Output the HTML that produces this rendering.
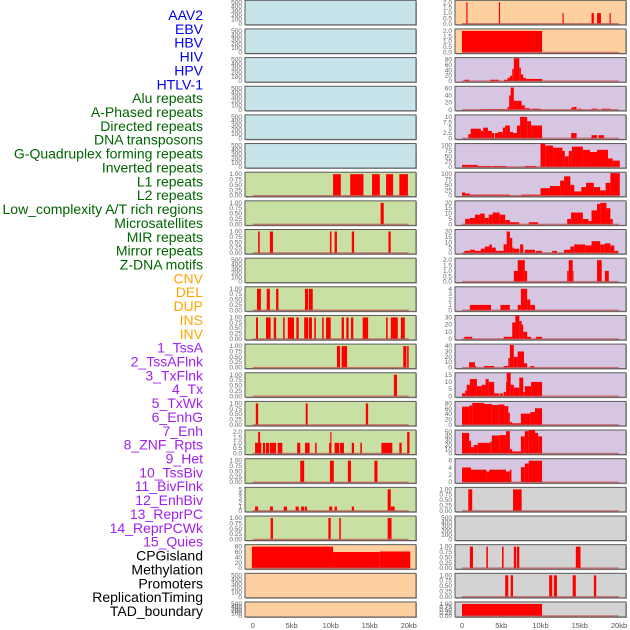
<!DOCTYPE html>
<html><head><meta charset="utf-8">
<style>
body{margin:0;background:#fff;width:630px;height:630px;overflow:hidden}
svg{display:block;font-family:"Liberation Sans",sans-serif}
</style></head>
<body>
<svg id="chart" width="630" height="630" viewBox="0 0 630 630" xmlns="http://www.w3.org/2000/svg">
<g id="labels"></g>
<g id="left"></g>
<g id="right"></g>
<g id="xaxes"></g>
</svg>
<script>
// ---- labels ----
const labelNames = ["AAV2","EBV","HBV","HIV","HPV","HTLV-1","Alu repeats","A-Phased repeats","Directed repeats","DNA transposons","G-Quadruplex forming repeats","Inverted repeats","L1 repeats","L2 repeats","Low_complexity A/T rich regions","Microsatellites","MIR repeats","Mirror repeats","Z-DNA motifs","CNV","DEL","DUP","INS","INV","1_TssA","2_TssAFlnk","3_TxFlnk","4_Tx","5_TxWk","6_EnhG","7_Enh","8_ZNF_Rpts","9_Het","10_TssBiv","11_BivFlnk","12_EnhBiv","13_ReprPC","14_ReprPCWk","15_Quies","CPGisland","Methylation","Promoters","ReplicationTiming","TAD_boundary"];
const labelGroups = [0,0,0,0,0,0,1,1,1,1,1,1,1,1,1,1,1,1,1,2,2,2,2,2,3,3,3,3,3,3,3,3,3,3,3,3,3,3,3,4,4,4,4,4];
const groupColors = ["#0000ee","#006400","#ffa500","#a020f0","#000000"];
// ---- x axis ----
const xTicks = [0,5,10,15,20];
const xTickLabels = ["0","5kb","10kb","15kb","20kb"];
// ---- left column: [startKb, endKb, value] ----
const leftMax = [500,500,500,500,500,500,1,1,1,500,1,1,1,1,1,2,1,5,1,80,500,500];
const leftTickStep = [100,100,100,100,100,100,0.25,0.25,0.25,100,0.25,0.25,0.25,0.25,0.25,0.5,0.25,1,0.25,20,100,100];
const leftBg = ["#c8e4eb","#c8e4eb","#c8e4eb","#c8e4eb","#c8e4eb","#c8e4eb","#c9e0a5","#c9e0a5","#c9e0a5","#c9e0a5","#c9e0a5","#c9e0a5","#c9e0a5","#c9e0a5","#c9e0a5","#c9e0a5","#c9e0a5","#c9e0a5","#c9e0a5","#ffd09f","#ffd09f","#ffd09f"];
const L6=[[10.3,11.3,1],[12.5,14.2,1],[15.3,16.3,1],[17.1,18,1],[18.8,19.9,1]];
const L7=[[16.4,16.8,1]];
const L8=[[0.7,0.9,1],[2.2,2.6,1],[9.9,10.1,1],[10.5,10.8,1],[12.7,13,1],[17.4,17.7,1]];
const L10=[[0.55,1.05,1],[1.8,2.2,1],[3,3.3,1],[6.7,7.1,1],[7.2,7.7,1]];
const L11=[[0.43,0.68,1],[1.7,2.3,1],[2.7,3,1],[3.9,4.1,1],[4.5,5.3,1],[5.6,5.9,1],[6.6,7.1,1],[7.2,7.6,1],[7.9,8.1,1],[8.9,9.1,1],[9.4,10,1],[11.4,11.7,1],[12,12.3,1],[12.6,12.9,1],[14.1,14.8,1],[17.1,17.3,1],[17.7,18.6,1],[19,19.5,1]];
const L12=[[10.8,11.2,1],[11.4,12.1,1],[19.3,19.7,1],[19.8,20,1]];
const L13=[[18.1,18.5,1]];
const L14=[[0.4,0.7,1],[6.8,7.05,1],[14.5,14.8,1]];
const L15=[[0.3,1.1,1],[0.7,0.95,2],[1.3,1.6,1],[1.7,2.1,1],[2.2,3,1],[3.2,3.8,1],[5.7,6.1,1],[6.7,7.3,1],[8,8.2,1],[9.8,10.1,1],[9.95,10.1,2],[10.5,11.1,1],[11.2,11.7,1],[12.7,13,1],[13.8,14,1],[16.5,17.9,1],[18.8,19.1,1],[19.8,20.1,2]];
const L16=[[6.1,6.6,1],[9.9,10.4,1],[12.2,12.6,1],[15.6,16,1]];
const L17=[[0.3,0.7,1],[2.2,2.6,1],[3.97,4.4,1],[5.5,5.9,1],[6.2,6.6,1],[6.7,6.97,1],[9.8,10.2,1],[10.5,10.8,1],[12.7,13,1],[17.3,17.7,5],[17.7,18.2,1]];
const L18=[[2.3,2.6,1],[9.7,10,1],[11.1,11.3,1],[17.3,17.8,1]];
const L19=[[-0.1,10.3,80],[10.3,16.3,60],[16.3,20.2,62]];
const leftData=[[],[],[],[],[],[],L6,L7,L8,[],L10,L11,L12,L13,L14,L15,L16,L17,L18,L19,[],[]];
// ---- right column ----
const rightMax = [2,2,80,60,10,100,100,20,20,2,4,30,40,15,80,50,6,1,500,1,1,1];
const rightTickStep = [0.5,0.5,20,20,2.5,25,25,5,5,0.5,1,10,10,5,20,10,2,0.25,100,0.25,0.25,0.25];
const rightBg = ["#ffd09f","#ffd09f","#d6c6e2","#d6c6e2","#d6c6e2","#d6c6e2","#d6c6e2","#d6c6e2","#d6c6e2","#d6c6e2","#d6c6e2","#d6c6e2","#d6c6e2","#d6c6e2","#d6c6e2","#d6c6e2","#d6c6e2","#d3d3d3","#d3d3d3","#d3d3d3","#d3d3d3","#d3d3d3"];
const R0=[[0.55,0.7,2],[4.7,4.85,2],[12.8,12.95,1],[16.5,16.8,1],[17.2,17.7,1],[18.8,18.95,1]];
const R1=[[0,10.2,2]];
const R2=[[0.3,0.9,5],[3.6,4.7,5],[5.35,5.8,5],[5.8,6.1,12],[6.1,6.4,20],[6.4,6.6,45],[6.6,7.3,85],[7.3,7.5,50],[7.5,7.8,25],[7.8,8.15,12],[8.15,10.2,8]];
const R3=[[2.4,5.8,2],[5.8,6,8],[6,6.2,40],[6.2,6.6,62],[6.6,7,25],[7,7.6,25],[7.6,8,12],[8,8.7,4],[8.9,10,3],[13.9,14.2,6],[14.2,14.6,8],[14.8,15.2,3],[16.5,17.2,3],[17.8,18.9,3]];
const R4=[[0.8,1.1,2],[1.1,2.4,4.5],[2.4,2.7,3.5],[2.7,3.3,5],[3.3,3.8,3.5],[3.8,4.1,2.5],[4.2,4.6,2.5],[4.6,5.2,3],[5.2,5.5,5],[5.5,6.1,6],[6.1,6.5,3],[6.5,7,2.5],[7,7.4,6],[7.4,8.3,10],[8.3,8.8,8],[8.8,10.2,6],[13.9,14.6,2.5],[16.5,17.2,1.5],[17.4,18.1,1.5]];
const R5=[[0,2,10],[2,3.7,5],[3.8,5.6,5],[8,9.4,5],[10,10.6,110],[10.6,11.6,100],[11.6,12.8,90],[12.8,13.1,75],[13.1,13.6,50],[13.6,14,75],[14,15.4,95],[15.4,16.3,80],[16.3,17.2,70],[17.2,18.6,80],[18.6,19.2,40],[19.2,20.1,30]];
const R6=[[0,0.4,15],[0.4,1,10],[1,6.1,5],[7.5,10,5],[10,11.2,35],[11.2,12.5,45],[12.5,13,70],[13,13.8,90],[13.8,14.3,50],[14.3,15.2,20],[15.2,15.8,40],[15.8,16.8,60],[16.8,17.6,40],[17.6,18.3,25],[18.3,18.9,60],[18.9,20.1,105]];
const R7=[[0.4,1,5],[1,1.65,6],[1.65,2.3,9],[2.3,2.9,10],[2.9,3.4,6],[3.4,3.9,9],[3.9,4.8,11],[4.8,5.5,9],[5.5,6.1,4],[6.1,7.3,2],[8.5,9.7,2],[13.4,13.9,5],[13.9,15.4,11],[15.4,16.1,5],[16.1,16.5,3],[16.5,17.2,13],[17.2,17.6,19],[17.6,18.4,20],[18.4,18.9,15],[18.9,19.2,5]];
const R8=[[0.3,1,2],[1,1.65,3],[1.65,2.4,2],[2.4,2.9,4],[2.9,3.5,6],[3.5,3.8,8],[3.8,4.3,5],[4.3,5.3,2],[5.3,5.7,8],[5.7,6.1,20],[6.1,6.4,14],[6.4,6.6,5],[6.6,7.3,4],[7.4,7.8,8],[8,9.3,3],[9.4,10.2,2],[11.5,12.1,2],[13,13.8,3],[13.8,14.3,6],[14.3,15.7,8],[15.7,16.5,7],[16.5,17.6,11],[17.6,18.2,8],[18.2,18.9,9],[18.9,19.4,7],[19.4,19.9,2]];
const R9=[[6.6,7.4,1],[7.1,8,2],[8,8.3,1],[13.4,13.6,1],[13.6,14.1,2],[14.1,14.2,1],[17.2,17.8,2],[18.2,18.7,1]];
const R10=[[1,3.7,1],[4.9,6.1,1],[7.1,7.5,1],[7.5,8.3,4],[8.3,8.7,2],[8.7,9.3,1]];
const R11=[[0.3,1.3,3],[5.3,6.4,3],[6.4,6.8,23],[6.8,7.3,33],[7.3,7.6,25],[7.6,7.8,20],[7.8,8.3,10],[8.3,8.8,3],[9.4,10.2,3]];
const R12=[[0.9,1.65,10],[1.65,1.8,3],[2.8,4.1,3],[5.3,5.9,3],[5.9,6.1,18],[6.1,6.6,42],[6.6,7.1,20],[7.1,7.9,30],[7.9,8.3,8],[8.7,9.2,3]];
const R13=[[0,0.4,2],[0.4,0.6,4],[0.6,1,8],[1,1.9,12],[1.9,2.5,7],[2.5,3,8],[3,3.4,12],[3.4,4.1,10],[4.1,4.7,2],[4.8,5.2,2],[5.3,5.6,3],[5.6,5.7,10],[5.7,6.2,18],[6.2,6.6,8],[6.6,7.3,6],[7.3,7.8,13],[7.8,8,3],[8,8.8,7],[8.8,10.2,10]];
const R14=[[0,0.9,68],[0.9,1.3,72],[1.3,2.8,82],[2.8,3.8,78],[3.8,4.6,74],[4.6,5.4,76],[5.4,5.9,70],[5.9,6.1,45],[6.1,6.4,10],[6.4,7.5,6],[7.5,8.7,42],[8.7,9.3,48],[9.3,10.2,62]];
const R15=[[0,0.9,48],[0.9,1.15,30],[1.15,1.5,15],[1.5,2,20],[2,3.6,25],[3.6,3.8,28],[3.8,4.8,42],[4.8,5.6,43],[5.6,6.1,52],[6.1,6.4,10],[6.4,7.5,5],[7.5,8,40],[8,8.5,52],[8.5,9.3,58],[9.3,9.7,48],[9.7,10.2,40]];
const R16=[[0,1.15,4.1],[1.15,3.1,3.5],[3.1,3.5,3],[3.5,5.6,3.5],[5.6,6.1,3],[6.1,6.3,3.5],[7.5,8,4.2],[8,8.5,5.2],[8.5,10.2,6]];
const R17=[[0.8,1.3,1],[6.5,7.6,1]];
const R19=[[1,1.4,1],[3.1,3.3,1],[5.1,5.3,1],[6.6,6.9,1],[7,7.3,1],[14.5,15.1,1]];
const R20=[[5.5,5.9,1],[6.2,6.5,1],[11.1,11.5,1],[11.7,12.1,1],[14.1,14.5,1],[16.8,17.1,1]];
const R21=[[0,10.2,1]];
const rightData=[R0,R1,R2,R3,R4,R5,R6,R7,R8,R9,R10,R11,R12,R13,R14,R15,R16,R17,[],R19,R20,R21];

const NS="http://www.w3.org/2000/svg";
function mk(tag,attrs,parent){const e=document.createElementNS(NS,tag);for(const k in attrs)e.setAttribute(k,attrs[k]);parent.appendChild(e);return e;}
const PITCH=28.65, PH=24.5;
function rowTop(i){return i*PITCH+0.3;}
function rowBot(i){return i===21?617:rowTop(i)+PH;}
const cols={left:{x0:245,x1:416,zero:252.7,k:7.8,tickX:242},right:{x0:455,x1:626,zero:462,k:7.85,tickX:452}};
function fmt(v,step){if(step<1){return step===0.25?v.toFixed(2):v.toFixed(1);}return String(v);}

// labels
const lg=document.getElementById('labels');
labelNames.forEach((n,i)=>{
  const t=mk('text',{x:203,y:15+i*13.86+5,'text-anchor':'end','font-size':'14',fill:groupColors[labelGroups[i]]},lg);
  
  
  t.textContent=n;
});

function drawColumn(side,data,maxes,steps,bgs){
  const c=cols[side];const g=document.getElementById(side);
  for(let i=0;i<22;i++){
    const t=rowTop(i),b=rowBot(i);
    const pg=mk('g',{},g);
    
    
    const clipId='clip-'+side+i;
    const cp=mk('clipPath',{id:clipId},pg);mk('rect',{x:c.x0,y:t,width:c.x1-c.x0,height:b-t},cp);
    mk('rect',{x:c.x0+1,y:t+1,width:c.x1-c.x0,height:b-t,fill:'#aaa'},pg);
    const bg=mk('rect',{x:c.x0,y:t,width:c.x1-c.x0,height:b-t,fill:bgs[i],stroke:'#5a5a5a','stroke-width':1},pg);
    
    
    const ymax=maxes[i];
    const y=v=>(b-1)-v/ymax*((b-1)-(t+2));
    const x=kb=>c.zero+kb*c.k;
    const bars=mk('g',{'clip-path':'url(#'+clipId+')'},pg);
    data[i].forEach((d,j)=>{
      const r=mk('rect',{x:x(d[0]),y:y(d[2]),width:Math.max(0.8,x(d[1])-x(d[0])),height:y(0)-y(d[2]),fill:'#ff0000'},bars);
      
      
    });
    if(data[i].length) mk('line',{x1:x(0),x2:x(20),y1:y(0),y2:y(0),stroke:'#c05050','stroke-width':1.5,opacity:0.7},pg);
    // ticks
    const st=steps[i];const n=Math.round(ymax/st);
    for(let k=0;k<=n;k++){
      const v=k*st;
      const tt=mk('text',{x:c.tickX,y:y(v)+2,'text-anchor':'end','font-size':'6.5',fill:'#666'},pg);
      
      
      tt.textContent=fmt(v,st);
    }
  }
}
drawColumn('left',leftData,leftMax,leftTickStep,leftBg);
drawColumn('right',rightData,rightMax,rightTickStep,rightBg);

const xg=document.getElementById('xaxes');
['left','right'].forEach(side=>{
  const c=cols[side];
  xTicks.forEach((v,i)=>{
    const t=mk('text',{x:c.zero+v*c.k,y:628,'text-anchor':'middle','font-size':'7.5',fill:'#555'},xg);
    
    
    t.textContent=xTickLabels[i];
  });
});
</script>
</body></html>
